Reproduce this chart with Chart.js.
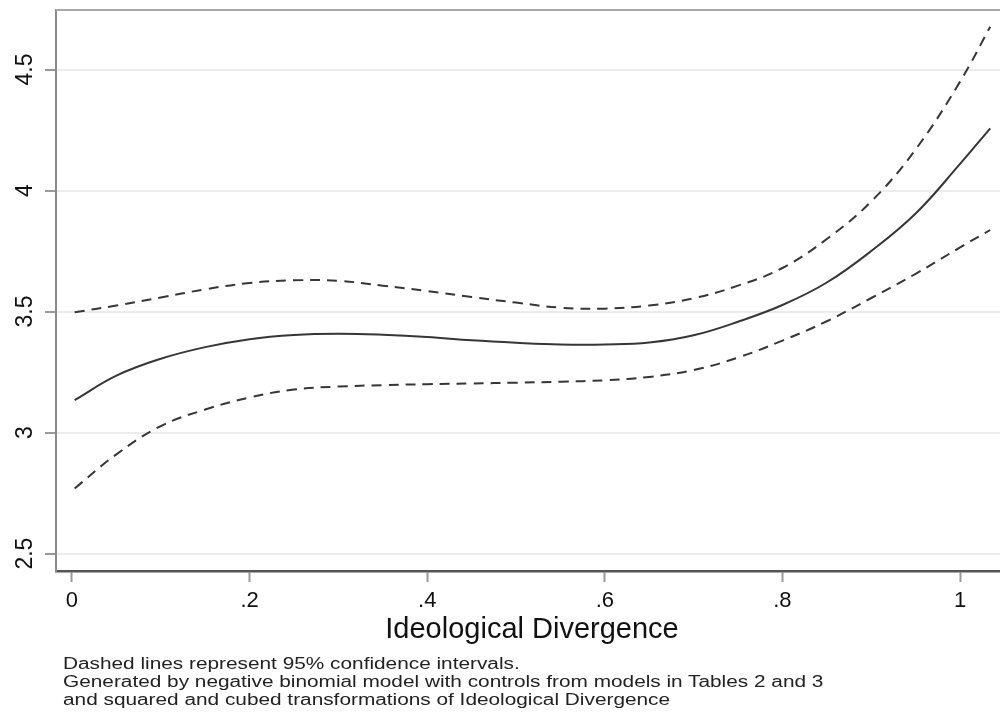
<!DOCTYPE html>
<html>
<head>
<meta charset="utf-8">
<script src="https://cdn.jsdelivr.net/npm/chart.js@4"></script>
<style>
    html, body { margin: 0; padding: 0; background: #fff; overflow: hidden; }
    #wrap { position: relative; width: 1000px; height: 723px; overflow: hidden; }
    #chart { position: absolute; left: 0; top: 0; }
    #note {
        position: absolute; left: 63px; top: 655px;
        font-family: "Liberation Sans", Arial, sans-serif; font-size: 16px; line-height: 18px;
        color: #222; white-space: nowrap;
        transform: scaleX(1.3); transform-origin: left top;
    }
</style>
</head>
<body>
<div id="wrap">
    <canvas id="chart" width="1008" height="723"></canvas>
    <div id="note">
        Dashed lines represent 95% confidence intervals.<br>
        Generated by negative binomial model with controls from models in Tables 2 and 3<br>
        and squared and cubed transformations of Ideological Divergence
    </div>
</div>
<script>
// Значения
const xValues = [0.003, 0.05, 0.1, 0.15, 0.2, 0.25, 0.3, 0.35, 0.4, 0.45, 0.5,
                 0.55, 0.6, 0.65, 0.7, 0.75, 0.8, 0.85, 0.9, 0.95, 1.0, 1.034];
const fitted = [3.134, 3.235, 3.305, 3.353, 3.386, 3.403, 3.408, 3.404, 3.395, 3.381, 3.371,
                3.364, 3.364, 3.372, 3.402, 3.458, 3.527, 3.62, 3.75, 3.905, 4.11, 4.257];
const upper = [3.497, 3.525, 3.558, 3.592, 3.618, 3.629, 3.627, 3.607, 3.585, 3.56, 3.537,
               3.516, 3.512, 3.525, 3.555, 3.607, 3.68, 3.8, 3.955, 4.17, 4.45, 4.677];
const lower = [2.769, 2.91, 3.027, 3.095, 3.145, 3.178, 3.19, 3.196, 3.2, 3.203, 3.206,
               3.21, 3.216, 3.23, 3.258, 3.31, 3.38, 3.46, 3.556, 3.656, 3.765, 3.837];

const xTickValues = [0, 0.2, 0.4, 0.6, 0.8, 1];
const xTickLabels = ['0', '.2', '.4', '.6', '.8', '1'];
const yTickValues = [2.5, 3, 3.5, 4, 4.5];
const yTickLabels = ['2.5', '3', '3.5', '4', '4.5'];

const FONT = '"Liberation Sans", Arial, sans-serif';

function toPoints(ys) {
    return xValues.map((x, i) => ({ x: x, y: ys[i] }));
}

function lineSet(label, ys, dashed) {
    return {
        label: label,
        data: toPoints(ys),
        borderColor: '#363636',
        borderWidth: 2,
        borderDash: dashed ? [10, 7] : [],
        pointRadius: 0,
        fill: false,
        tension: 0.4
    };
}

// Повёрнутые подписи оси Y и верхняя рамка
const framePlugin = {
    id: 'frame',
    afterDraw(chart) {
        const ctx = chart.ctx;
        const area = chart.chartArea;
        const yScale = chart.scales.y;
        ctx.save();
        ctx.strokeStyle = '#a8a8a8';
        ctx.lineWidth = 2;
        ctx.beginPath();
        ctx.moveTo(area.left, area.top);
        ctx.lineTo(area.right, area.top);
        ctx.stroke();

        ctx.fillStyle = '#111';
        ctx.font = '23px ' + FONT;
        ctx.textAlign = 'center';
        ctx.textBaseline = 'middle';
        yTickValues.forEach((v, i) => {
            const py = yScale.getPixelForValue(v);
            ctx.save();
            ctx.translate(26, py);
            ctx.rotate(-Math.PI / 2);
            ctx.fillText(yTickLabels[i], 0, 0);
            ctx.restore();
        });
        ctx.restore();
    }
};

new Chart(document.getElementById('chart'), {
    type: 'line',
    data: {
        datasets: [
            lineSet('Upper', upper, true),
            lineSet('Fitted', fitted, false),
            lineSet('Lower', lower, true)
        ]
    },
    options: {
        responsive: false,
        animation: false,
        layout: { padding: { top: 10, right: 0, bottom: 76, left: 0 } },
        plugins: {
            legend: { display: false },
            tooltip: { enabled: false }
        },
        scales: {
            x: {
                type: 'linear',
                min: -0.018,
                max: 1.054,
                afterBuildTicks: axis => { axis.ticks = xTickValues.map(v => ({ value: v })); },
                afterFit: axis => { axis.height = 76; },
                ticks: {
                    includeBounds: false,
                    color: '#111',
                    font: { family: FONT, size: 22 },
                    padding: 6,
                    maxRotation: 0,
                    callback: value => {
                        const i = xTickValues.indexOf(value);
                        return i >= 0 ? xTickLabels[i] : '';
                    }
                },
                grid: {
                    drawOnChartArea: false,
                    drawTicks: true,
                    tickLength: 11,
                    tickColor: '#999',
                    tickWidth: 2
                },
                border: { color: '#555', width: 2.5 },
                title: {
                    display: true,
                    text: 'Ideological Divergence',
                    color: '#111',
                    font: { family: FONT, size: 29 },
                    padding: 0
                }
            },
            y: {
                min: 2.428,
                max: 4.746,
                afterBuildTicks: axis => { axis.ticks = yTickValues.map(v => ({ value: v })); },
                afterFit: axis => { axis.width = 56; },
                ticks: { display: false },
                grid: {
                    color: '#ececec',
                    lineWidth: 2,
                    drawTicks: true,
                    tickLength: 11,
                    tickColor: '#999',
                    tickWidth: 2
                },
                border: { color: '#8a8a8a', width: 2 }
            }
        }
    },
    plugins: [framePlugin]
});
</script>
</body>
</html>
